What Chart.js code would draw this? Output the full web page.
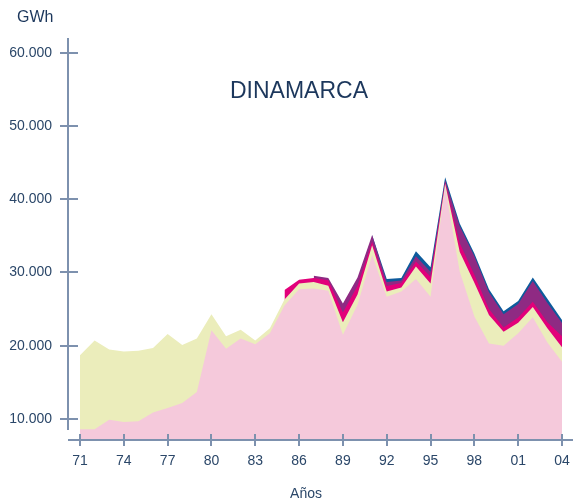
<!DOCTYPE html>
<html lang="es">
<head>
<meta charset="utf-8">
<title>Dinamarca</title>
<script src="https://cdn.jsdelivr.net/npm/chart.js@4/dist/chart.umd.min.js"></script>
<style>
  html, body { margin: 0; padding: 0; background: #fff; }
  #wrap { position: relative; width: 573px; height: 504px; }
</style>
</head>
<body>
<div id="wrap"><canvas id="grafico" width="573" height="504"></canvas></div>
<script>
// años 1971-2004
const years = ['71','72','73','74','75','76','77','78','79','80','81','82','83','84','85','86','87',
               '88','89','90','91','92','93','94','95','96','97','98','99','00','01','02','03','04'];
const shownYears = ['71','74','77','80','83','86','89','92','95','98','01','04'];
const yTicks = [10000, 20000, 30000, 40000, 50000, 60000];
const yMin = 7000, yMax = 62000;

// GWh por fuente (capas apiladas, de abajo arriba)
const carbon = [8600, 8600, 9900, 9600, 9700, 10900, 11500, 12200, 13700, 22100, 19600, 21000, 20200, 21700,
                25500, 27700, 27800, 27500, 21500, 25600, 32400, 26700, 27400, 29100, 26700, 41700, 30100,
                24000, 20300, 20000, 21700, 23900, 20450, 17800];
const petroleo = [10100, 12100, 9600, 9600, 9600, 8800, 10100, 7900, 7300, 2200, 1700, 1200, 500, 700,
                  800, 800, 900, 700, 1700, 1400, 1300, 700, 550, 1700, 1800, 400, 2700,
                  4600, 3900, 1900, 1450, 1400, 1950, 2000];
const gas = [null, null, null, null, null, null, null, null, null, null, null, null, null, null,
             1300, 500, 550, 750, 1350, 1200, 500, 750, 600, 700, 900, 200, 1200,
             1100, 800, 600, 700, 700, 800, 1500];
const renovables = [null, null, null, null, null, null, null, null, null, null, null, null, null, null,
                    null, null, 300, 300, 1200, 1100, 900, 550, 350, 700, 700, 300, 2300,
                    2500, 2300, 1800, 1850, 2850, 2650, 1800];
const otros = [null, null, null, null, null, null, null, null, null, null, null, null, null, null,
               null, null, null, null, null, null, 0, 400, 350, 700, 600, 400, 400,
               400, 400, 400, 400, 450, 550, 400];

const axisColor = '#7d91ae';
const textColor = '#2b4769';

function capa(label, data, color) {
  return {
    label, data,
    backgroundColor: color,
    borderWidth: 0,
    pointRadius: 0,
    tension: 0,
    fill: 'start'
  };
}

const ejes = {
  id: 'ejes',
  afterDatasetsDraw(chart) {
    const { ctx, scales: { x, y } } = chart;
    ctx.save();
    ctx.strokeStyle = axisColor;
    ctx.lineWidth = 2;
    ctx.beginPath();
    // eje vertical, separado del área
    ctx.moveTo(68, y.getPixelForValue(yMax));
    ctx.lineTo(68, 430);
    yTicks.forEach(v => {
      const py = Math.round(y.getPixelForValue(v));
      ctx.moveTo(60, py);
      ctx.lineTo(78, py);
    });
    // eje horizontal
    ctx.moveTo(68, 440);
    ctx.lineTo(573, 440);
    years.forEach((yr, i) => {
      if (!shownYears.includes(yr)) return;
      const px = Math.round(x.getPixelForValue(i));
      ctx.moveTo(px, 434);
      ctx.lineTo(px, 446);
    });
    ctx.stroke();
    ctx.restore();
  },
  afterDraw(chart) {
    const ctx = chart.ctx;
    ctx.save();
    ctx.fillStyle = '#1c375c';
    ctx.textBaseline = 'alphabetic';
    ctx.font = '16px "Liberation Sans", Arial, sans-serif';
    ctx.textAlign = 'left';
    ctx.fillText('GWh', 17, 22);
    ctx.font = '23px "Liberation Sans", Arial, sans-serif';
    ctx.textAlign = 'center';
    ctx.fillText('DINAMARCA', 299, 98);
    ctx.fillStyle = textColor;
    ctx.font = '14px "Liberation Sans", Arial, sans-serif';
    ctx.fillText('Años', 306, 498);
    ctx.restore();
  }
};

new Chart(document.getElementById('grafico'), {
  type: 'line',
  data: {
    labels: years,
    datasets: [
      capa('Carbón', carbon, '#f5c9db'),
      capa('Petróleo', petroleo, '#ebedbb'),
      capa('Gas natural', gas, '#e2007a'),
      capa('Renovables', renovables, '#8f2a83'),
      capa('Otros', otros, '#0d5b9c')
    ]
  },
  options: {
    responsive: false,
    animation: false,
    devicePixelRatio: 1,
    layout: { padding: { top: 38, right: 11, left: 0, bottom: 0 } },
    plugins: {
      legend: { display: false },
      tooltip: { enabled: false }
    },
    scales: {
      x: {
        offset: false,
        grid: { display: false, drawTicks: false },
        border: { display: false },
        ticks: {
          autoSkip: false,
          maxRotation: 0,
          padding: 12,
          color: textColor,
          font: { family: '"Liberation Sans", Arial, sans-serif', size: 14 },
          callback: function (v) {
            const l = this.getLabelForValue(v);
            return shownYears.includes(l) ? l : '';
          }
        },
        afterFit: s => {
          s.height = 63;
          s.paddingLeft = 0;
          s.paddingRight = 0;
        }
      },
      y: {
        stacked: true,
        min: yMin,
        max: yMax,
        grid: { display: false, drawTicks: false },
        border: { display: false },
        afterBuildTicks: s => { s.ticks = yTicks.map(v => ({ value: v })); },
        ticks: {
          padding: 28,
          color: textColor,
          font: { family: '"Liberation Sans", Arial, sans-serif', size: 14 },
          callback: v => v.toLocaleString('de-DE')
        },
        afterFit: s => { s.width = 80; }
      }
    }
  },
  plugins: [ejes]
});
</script>
</body>
</html>
